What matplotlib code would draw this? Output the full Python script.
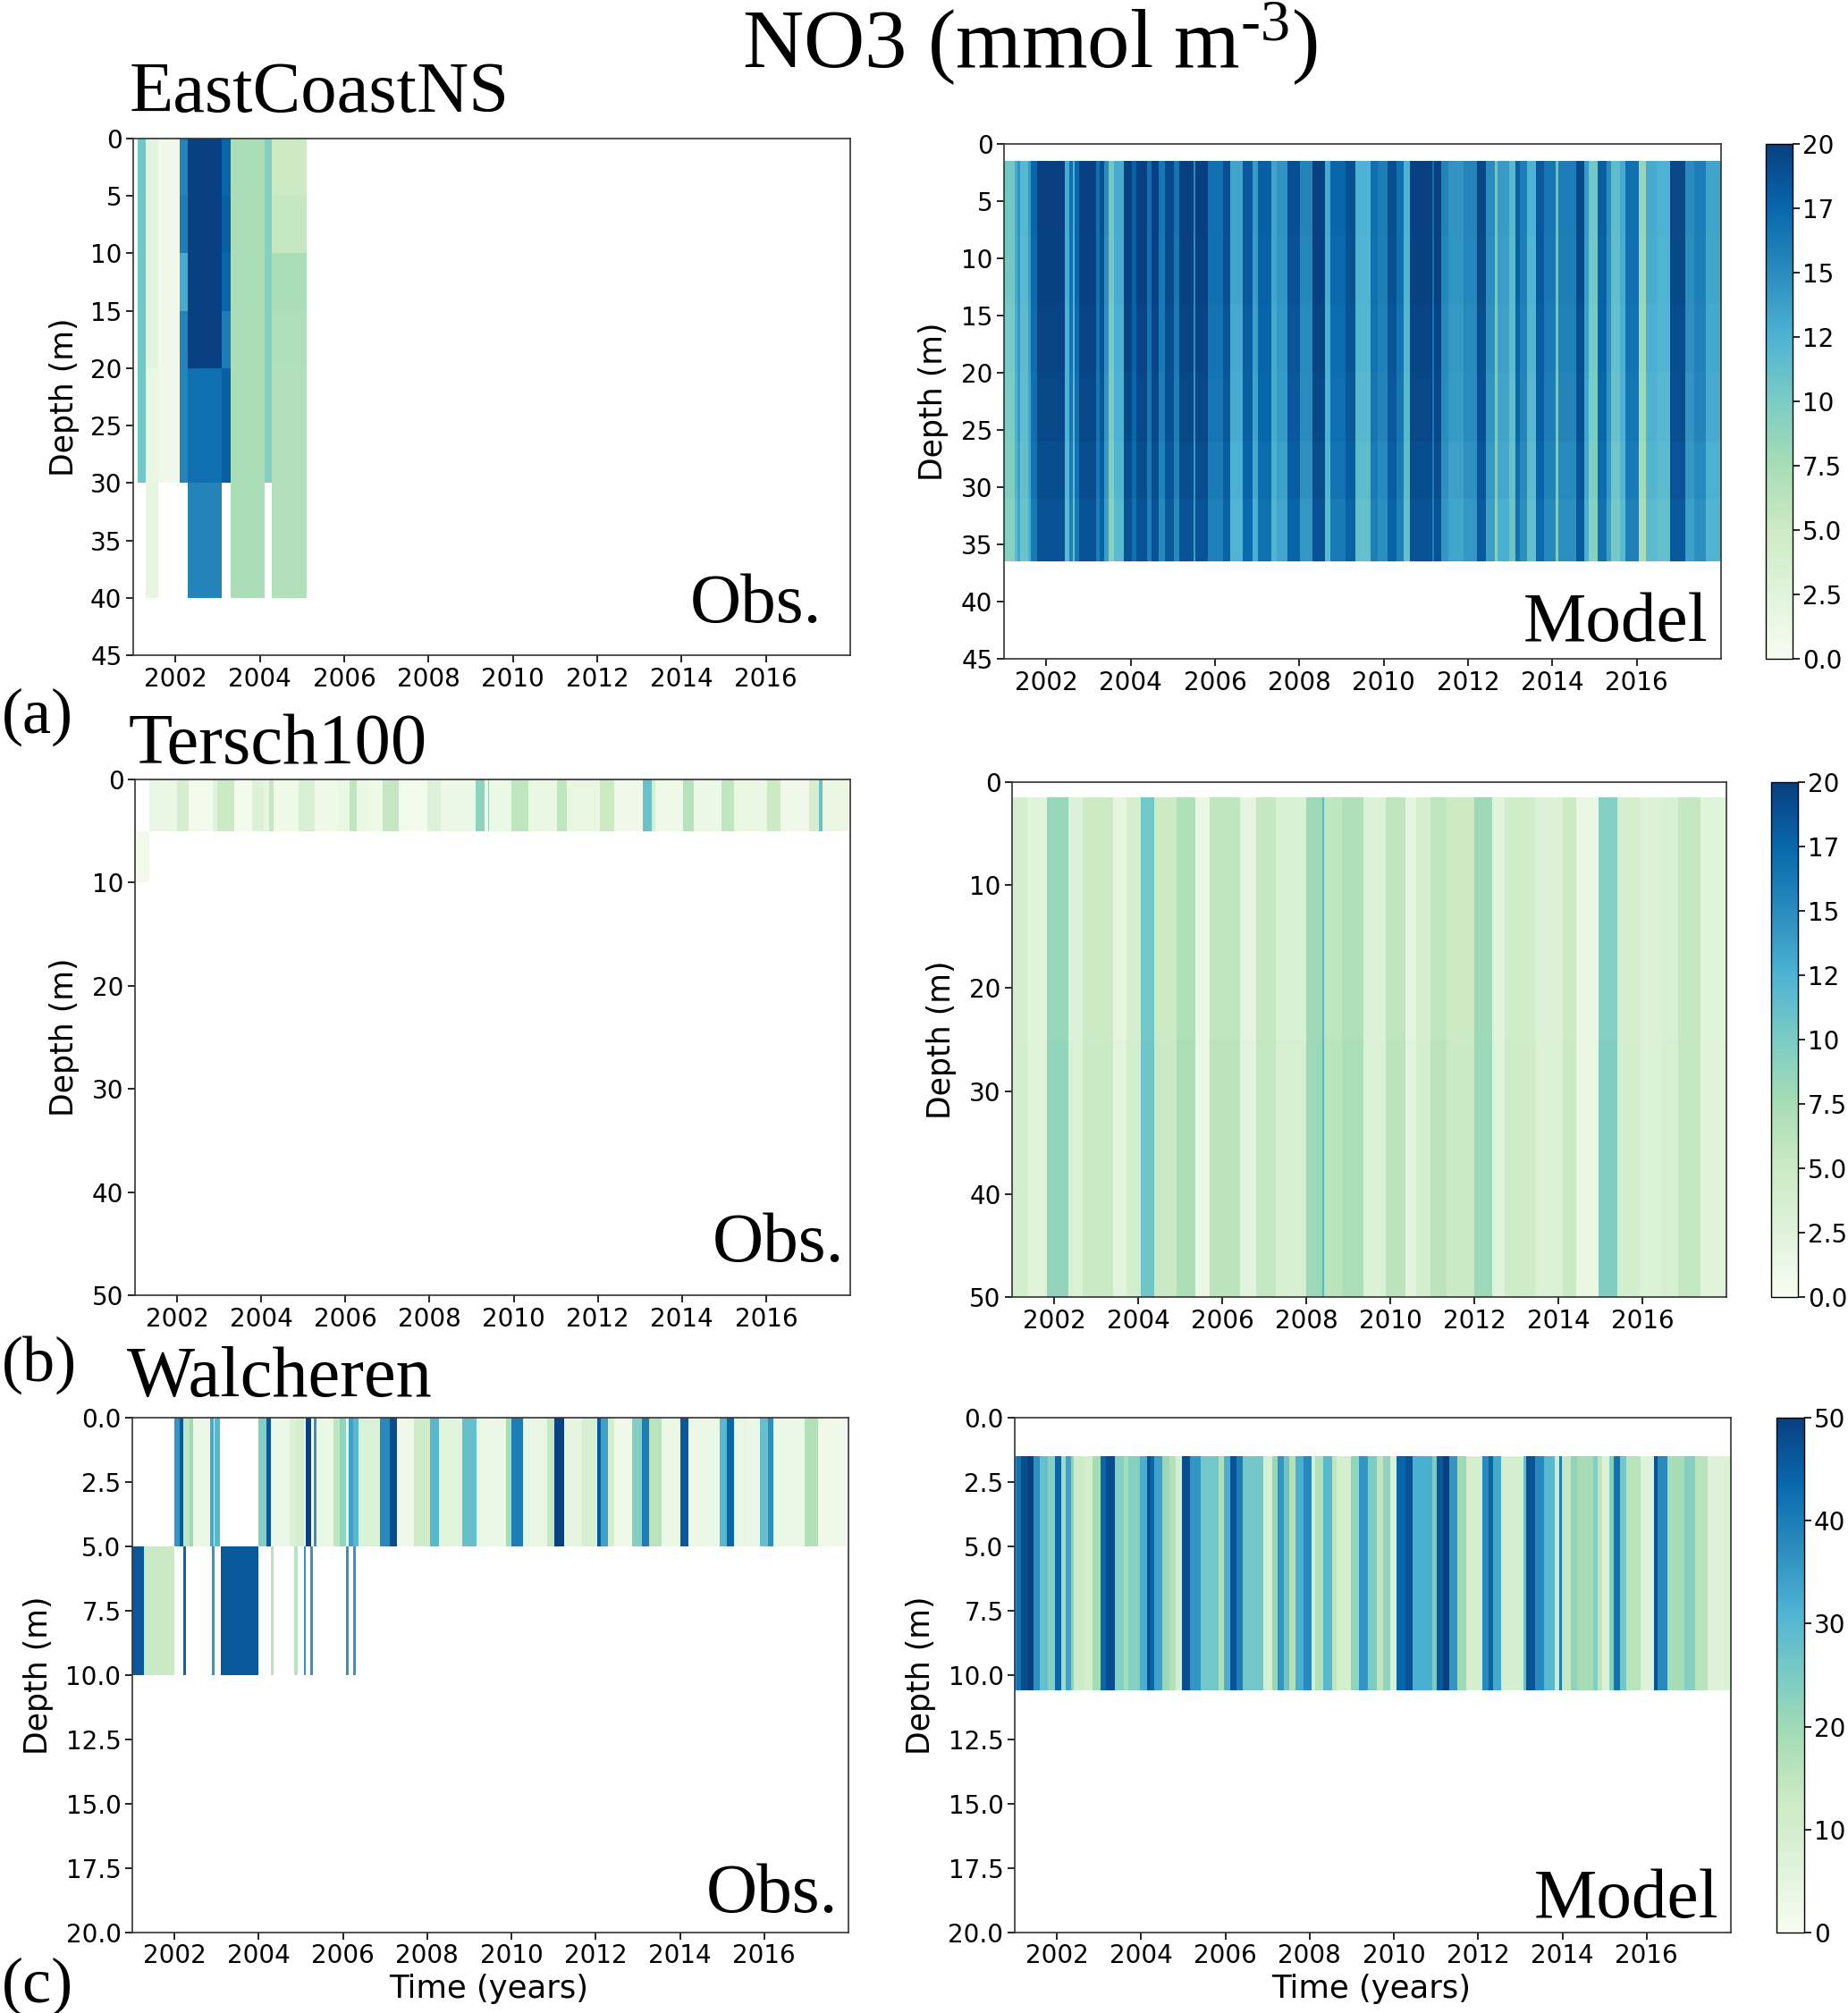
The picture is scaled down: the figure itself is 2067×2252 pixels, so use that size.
# NO3 depth-time panels: obs. (left) vs model (right) at three stations
import matplotlib
matplotlib.use('Agg')
import matplotlib.pyplot as plt
import numpy as np

plt.rcParams.update({'font.family': 'DejaVu Sans', 'mathtext.fontset': 'custom',
                     'mathtext.rm': 'Liberation Serif', 'mathtext.default': 'rm'})

W, H = 2067, 2252
nan = np.nan
YEAR_TICKS = list(range(2002, 2017, 2))

# ---- (a) EastCoastNS obs: columns x depth layers
a_obs_t = [2001.10, 2001.30, 2001.60, 2002.10, 2002.30, 2003.10, 2003.31, 2004.12, 2004.28, 2005.11]
a_obs_d = [0, 5, 10, 15, 20, 30, 40]
a_obs_v = [[10.5, 2.2, 0.8, 15.5, 20, 17.5, 7.3, 9.5, 5],
           [10.5, 2.2, 0.8, 16, 20, 18, 7.3, 9.5, 5.5],
           [10.5, 2.2, 0.8, 13, 20, 17.5, 7.3, 9.5, 7.3],
           [10.5, 2.2, 0.8, 15.5, 20, 16, 7.3, 9.5, 7],
           [10.5, 1.5, 0.8, 15.5, 17, 18, 7.3, 9.5, 6.8],
           [nan, 1.8, nan, nan, 15.5, nan, 7.3, nan, 6.8]]

# ---- (a) EastCoastNS model
a_mod_ends = [2001.25, 2001.32, 2001.39, 2001.58, 2001.64, 2001.78, 2002.45, 2002.55, 2002.63, 2002.68,
              2002.78, 2003.18, 2003.26, 2003.37, 2003.49, 2003.61, 2003.83, 2004.04, 2004.14, 2004.39,
              2004.50, 2004.67, 2004.82, 2005.03, 2005.15, 2005.49, 2005.54, 2005.84, 2006.19, 2006.37,
              2006.65, 2006.90, 2007.01, 2007.33, 2007.47, 2007.71, 2008.02, 2008.31, 2008.60, 2008.74,
              2009.09, 2009.34, 2009.70, 2009.87, 2010.09, 2010.30, 2010.47, 2010.63, 2011.16, 2011.20,
              2011.37, 2011.53, 2011.89, 2012.21, 2012.42, 2012.63, 2012.70, 2012.98, 2013.12, 2013.23,
              2013.41, 2013.62, 2013.80, 2014.08, 2014.15, 2014.57, 2014.75, 2014.86, 2015.07, 2015.28,
              2015.39, 2015.60, 2015.74, 2016.06, 2016.23, 2016.48, 2016.80, 2017.15, 2017.36, 2017.65,
              2018.00]
a_mod_v = [10.5, 13, 14.5, 12, 14, 17.5, 20, 13, 17, 12.5,
           17.5, 20, 17, 19, 15, 10.5, 13, 20, 18, 20,
           17, 20, 16.5, 19.5, 16.5, 20, 15, 20, 17, 19,
           13.5, 18.5, 14, 18, 13.5, 14.5, 19, 15.5, 20, 13,
           17.5, 19, 12.5, 17, 16, 19, 17, 12.5, 20, 17,
           20, 15.5, 14.5, 15.5, 19.5, 15, 10.5, 14, 12, 18,
           16, 12.5, 18.5, 16.5, 11, 16, 19.5, 14, 10.5, 18,
           15, 11.5, 13, 17, 8.5, 13, 12.5, 19.5, 15, 16,
           13.5]
a_mod_d = [1.5, 8, 14, 20, 26, 31, 36.5]
a_mod_off = [0, -0.1, -0.3, -0.5, -0.8, -1.2]

# ---- (b) Tersch100 obs
b_obs_ends = [2001.35, 2002.00, 2002.27, 2002.84, 2002.96, 2003.35, 2003.78, 2004.05, 2004.18, 2004.30,
              2004.88, 2005.28, 2005.80, 2006.11, 2006.26, 2006.55, 2006.89, 2007.26, 2007.95, 2008.27,
              2009.10, 2009.31, 2009.39, 2009.42, 2009.94, 2010.34, 2011.03, 2011.26, 2012.04, 2012.39,
              2013.08, 2013.28, 2013.37, 2014.03, 2014.29, 2014.95, 2015.23, 2016.02, 2016.35, 2017.02,
              2017.25, 2017.34, 2017.96]
b_obs_v = [nan, 1.3, 4, 0.6, 2.5, 5, 0.4, 2.8, 2, 5.5,
           1, 3.5, 1, 1.5, 6, 1.5, 1, 5.5, 0.4, 3,
           1.2, 9, 1, 9, 1.2, 6, 1.5, 6, 1.7, 5,
           0.8, 11, 4, 1, 6.5, 1.2, 6, 1.5, 5, 0.8,
           4, 11, 1.5]
b_obs_deep_t = [2001.0, 2001.35]
b_obs_deep_v = [0.5]

# ---- (b) Tersch100 model
b_mod_ends = [2001.37, 2001.83, 2002.35, 2002.68, 2003.40, 2003.73, 2004.06, 2004.39, 2004.91, 2005.37,
              2005.70, 2006.42, 2006.81, 2007.27, 2007.99, 2008.39, 2008.43, 2008.85, 2009.37, 2009.90,
              2010.36, 2010.62, 2010.95, 2011.34, 2012.00, 2012.42, 2012.72, 2013.44, 2014.10, 2014.43,
              2014.95, 2015.41, 2015.93, 2016.46, 2016.85, 2017.38, 2018.00]
b_mod_v = [4, 2.5, 8.5, 3, 5, 2, 4, 10.5, 5, 7,
           1.5, 6, 2, 5.5, 3.5, 8, 12, 6, 7, 3,
           6, 2, 4, 6, 5, 8, 2.5, 4.5, 3, 5,
           1.5, 9.5, 4, 3, 3.5, 5.5, 2.5]
b_mod_d = [1.5, 25, 50]
b_mod_off = [0, 0.2]

# ---- (c) Walcheren obs, 0-5 m and 5-10 m layers
c_obs_ends = [2002.00, 2002.12, 2002.21, 2002.35, 2002.44, 2002.84, 2002.94, 2002.96, 2003.09, 2004.00,
              2004.19, 2004.28, 2004.74, 2004.88, 2005.07, 2005.11, 2005.24, 2005.30, 2005.38, 2005.78,
              2005.92, 2006.07, 2006.13, 2006.24, 2006.36, 2006.88, 2007.11, 2007.28, 2007.68, 2008.06,
              2008.29, 2008.83, 2009.18, 2009.87, 2009.99, 2010.27, 2010.85, 2011.02, 2011.26, 2011.68,
              2012.03, 2012.12, 2012.29, 2012.44, 2012.87, 2013.10, 2013.27, 2013.56, 2014.02, 2014.20,
              2014.94, 2015.11, 2015.29, 2015.57, 2015.90, 2016.09, 2016.21, 2016.96, 2017.28, 2017.94]
c_obs_v = [nan, 36, 46, 15, 20, 3, 33, nan, 30, nan,
           24, 46, 3, 8, 10, 3, 50, 2, 36, 3,
           15, 22, 3, 34, 30, 8, 38, 48, 2, 12,
           30, 6, 28, 3, 19, 40, 4, 14, 50, 5,
           9, 46, 34, 10, 2, 24, 40, 16, 3, 46,
           3, 30, 44, 4, 3, 28, 37, 3, 17, 2]
c_deep_ends = [2001.28, 2001.99, 2002.20, 2002.27, 2002.89, 2002.96, 2003.10, 2004.00, 2004.29, 2004.35,
               2004.85, 2004.92, 2005.07, 2005.12, 2005.23, 2005.29, 2006.08, 2006.13, 2006.24, 2006.30]
c_deep_v = [46, 13, nan, 44, nan, 36, nan, 46, nan, 16,
            nan, 16, nan, 36, nan, 36, nan, 36, nan, 36]

# ---- (c) Walcheren model
c_mod_ends = [2001.05, 2001.14, 2001.30, 2001.45, 2001.60, 2001.78, 2001.95, 2002.10, 2002.20, 2002.34,
              2002.41, 2002.66, 2002.84, 2003.03, 2003.16, 2003.38, 2003.58, 2003.69, 2003.97, 2004.15,
              2004.22, 2004.32, 2004.50, 2004.68, 2004.82, 2004.96, 2005.17, 2005.42, 2005.84, 2005.97,
              2006.11, 2006.27, 2006.41, 2006.91, 2007.12, 2007.24, 2007.38, 2007.51, 2007.67, 2007.86,
              2008.05, 2008.14, 2008.32, 2008.53, 2008.64, 2008.99, 2009.17, 2009.38, 2009.59, 2009.74,
              2009.92, 2010.06, 2010.27, 2010.45, 2010.91, 2011.02, 2011.16, 2011.31, 2011.50, 2011.72,
              2012.11, 2012.25, 2012.36, 2012.54, 2013.07, 2013.15, 2013.35, 2013.56, 2013.81, 2013.92,
              2013.99, 2014.20, 2014.34, 2014.73, 2014.84, 2014.94, 2015.12, 2015.21, 2015.37, 2015.51,
              2015.86, 2016.18, 2016.25, 2016.50, 2016.89, 2017.16, 2017.45, 2018.00]
c_mod_v = [37, 42, 48, 50, 37, 28, 24, 44, 19, 34,
           22, 12, 10, 19, 44, 48, 24, 19, 24, 32,
           47, 44, 34, 21, 17, 9, 48, 36, 26, 17,
           32, 47, 40, 26, 9, 21, 36, 27, 17, 32,
           38, 9, 17, 30, 15, 10, 22, 36, 25, 15,
           22, 8, 44, 47, 32, 25, 46, 50, 36, 20,
           10, 38, 44, 33, 10, 28, 47, 38, 30, 12,
           40, 14, 22, 19, 24, 15, 8, 24, 42, 26,
           16, 7, 47, 38, 19, 24, 16, 7]
c_mod_d = [1.5, 10.6]

# ---- ticks and colourbars
cb_20_ticks = [0, 2.5, 5, 7.5, 10, 12.5, 15, 17.5, 20]
cb_20_labels = ['0.0', '2.5', '5.0', '7.5', '10', '12', '15', '17', '20']
cb_50_ticks = [0, 10, 20, 30, 40, 50]
d45 = list(range(0, 46, 5))
d50 = list(range(0, 51, 10))
d20 = [0, 2.5, 5, 7.5, 10, 12.5, 15, 17.5, 20]
d20_labels = ['0.0', '2.5', '5.0', '7.5', '10.0', '12.5', '15.0', '17.5', '20.0']

CMAP = plt.get_cmap('GnBu').copy()
CMAP.set_bad((1, 1, 1, 0))


def add_ax(x0, y0, x1, y1):
    # box given in picture pixels, y downward
    return fig.add_axes([x0 / W, 1 - y1 / H, (x1 - x0) / W, (y1 - y0) / H])


def edges(ends, start=2001.0):
    return np.array([start] + list(ends))


def draw(ax, t, d, C, vmax):
    return ax.pcolormesh(t, d, np.ma.masked_invalid(np.array(C, dtype=float)),
                         cmap=CMAP, vmin=0, vmax=vmax, shading='flat')


def style(ax, ymax, yticks, ylabels=None, lab_off=60, xlabel=False):
    ax.set_xlim(2001, 2018); ax.set_ylim(ymax, 0)
    ax.set_xticks(YEAR_TICKS); ax.set_xticklabels(YEAR_TICKS)
    ax.set_yticks(yticks)
    if ylabels:
        ax.set_yticklabels(ylabels)
    ax.tick_params(labelsize=20, length=6, width=1.2, pad=3)
    for s in ax.spines.values():
        s.set_linewidth(1.2); s.set_color('#333333')
    ax.set_ylabel('Depth (m)', fontsize=25)
    ax.yaxis.set_label_coords(-lab_off / 802, 0.5)
    if xlabel:
        ax.set_xlabel('Time (years)', fontsize=25.5)
        ax.xaxis.set_label_coords(0.498, -0.08)


def cbar(x0, y0, x1, y1, vmax, ticks, labels=None):
    cax = add_ax(x0, y0, x1, y1)
    sm = matplotlib.cm.ScalarMappable(norm=plt.Normalize(0, vmax), cmap=CMAP)
    cb = fig.colorbar(sm, cax=cax)
    cb.set_ticks(ticks)
    if labels:
        cb.set_ticklabels(labels)
    cb.ax.tick_params(labelsize=20, length=6, width=1.2, pad=2)
    cb.outline.set_linewidth(1.0)


def serif(x, y, s, size, ha='left'):
    fig.text(x / W, 1 - y / H, s, family='Liberation Serif', fontsize=size, ha=ha, va='baseline')


fig = plt.figure(figsize=(W / 100, H / 100), dpi=100)

# (a)
ax = add_ax(149, 155, 951, 733)
draw(ax, a_obs_t, a_obs_d, a_obs_v, 20)
style(ax, 45, d45, lab_off=60)
ax = add_ax(1123, 161, 1925, 737)
draw(ax, edges(a_mod_ends), a_mod_d, [[v + o for v in a_mod_v] for o in a_mod_off], 20)
style(ax, 45, d45, lab_off=62)
cbar(1975, 161, 2005, 737, 20, cb_20_ticks, cb_20_labels)

# (b)
ax = add_ax(151, 872, 951, 1449)
draw(ax, edges(b_obs_ends), [0, 5], [b_obs_v], 20)
draw(ax, b_obs_deep_t, [5, 10], [b_obs_deep_v], 20)
style(ax, 50, d50, lab_off=62)
ax = add_ax(1132, 875, 1931, 1451)
draw(ax, edges(b_mod_ends), b_mod_d, [[v + o for v in b_mod_v] for o in b_mod_off], 20)
style(ax, 50, d50, lab_off=62)
cbar(1981, 875, 2011, 1451, 20, cb_20_ticks, cb_20_labels)

# (c)
ax = add_ax(148, 1586, 949, 2162)
draw(ax, edges(c_obs_ends), [0, 5], [c_obs_v], 50)
draw(ax, edges(c_deep_ends), [5, 10], [c_deep_v], 50)
style(ax, 20, d20, d20_labels, lab_off=88, xlabel=True)
ax = add_ax(1135, 1586, 1936, 2162)
draw(ax, edges(c_mod_ends), c_mod_d, [c_mod_v], 50)
style(ax, 20, d20, d20_labels, lab_off=88, xlabel=True)
cbar(1987, 1586, 2018, 2162, 50, cb_50_ticks)

# big serif labels
serif(1152, 76, r'NO3 (mmol m$^{\text{-3}}$)', 68, ha='center')
serif(145, 125, 'EastCoastNS', 58)
serif(144, 854, 'Tersch100', 58)
serif(142, 1562, 'Walcheren', 58)
serif(919, 696, 'Obs.', 57, ha='right')
serif(944, 1411, 'Obs.', 57, ha='right')
serif(937, 2139, 'Obs.', 57, ha='right')
serif(1911, 717, 'Model', 57, ha='right')
serif(1923, 2145, 'Model', 57, ha='right')
serif(2, 820, '(a)', 52)
serif(2, 1545, '(b)', 52)
serif(2, 2240, '(c)', 52)

fig.savefig('out.png', dpi=100)
